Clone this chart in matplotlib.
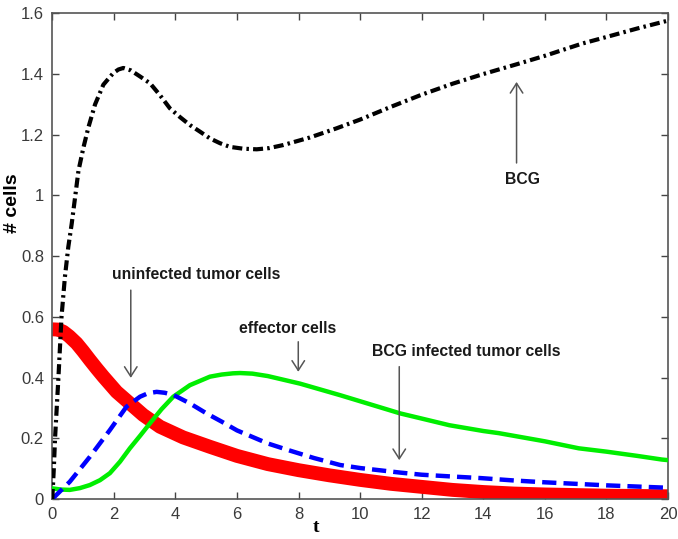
import matplotlib
matplotlib.use("Agg")
import matplotlib.pyplot as plt

# BCG concentration
t_bcg = [0, 0.05, 0.09, 0.15, 0.2, 0.3, 0.41, 0.52, 0.63, 0.74, 0.85, 1.01, 1.17, 1.39,
         1.66, 1.98, 2.15, 2.31, 2.55, 2.85, 3.18, 3.5, 3.82, 4.15, 4.47, 4.8, 5.12, 5.45,
         5.77, 6.2, 6.64, 7.05, 7.5, 8.37, 9.23, 10.0, 11.0, 12.0, 13.0, 14.0, 15.08,
         16.0, 17.2, 18.0, 19.0, 20.0]
bcg = [0.0, 0.1, 0.2, 0.31, 0.4, 0.6, 0.731, 0.83, 0.906, 0.993, 1.081, 1.157, 1.223, 1.30,
       1.365, 1.403, 1.415, 1.42, 1.412, 1.392, 1.369, 1.33, 1.287, 1.258, 1.232, 1.21, 1.188,
       1.172, 1.16, 1.154, 1.152, 1.156, 1.166, 1.191, 1.221, 1.25, 1.292, 1.332, 1.368,
       1.40, 1.432, 1.46, 1.50, 1.522, 1.55, 1.576]

# uninfected tumor cells
t_tu = [0, 0.2, 0.36, 0.55, 0.79, 1.0, 1.22, 1.44, 1.66, 2.09, 2.52, 2.95, 3.5, 4.25,
        5.12, 6.0, 7.0, 8.0, 9.0, 10.0, 11.0, 12.0, 13.0, 14.0, 15.0, 16.0, 17.0, 18.0,
        19.0, 20.0]
tu = [0.559, 0.558, 0.551, 0.536, 0.513, 0.487, 0.458, 0.43, 0.403, 0.353, 0.315, 0.277,
      0.238, 0.203, 0.172, 0.142, 0.115, 0.095, 0.078, 0.063, 0.05, 0.04, 0.03, 0.023, 0.018,
      0.015, 0.013, 0.011, 0.01, 0.009]

# BCG infected tumor cells
t_ti = [0, 0.57, 1.22, 1.87, 2.41, 2.85, 3.1, 3.39, 3.65, 3.93, 4.47, 5.01, 5.5, 6.0,
        7.0, 7.7, 8.5, 9.35, 10.0, 11.3, 12.0, 13.0, 13.9, 15.0, 16.0, 17.0, 18.0, 19.0,
        20.0]
ti = [0.0, 0.057, 0.139, 0.227, 0.304, 0.337, 0.348, 0.353, 0.35, 0.343, 0.315, 0.282,
      0.255, 0.226, 0.183, 0.16, 0.135, 0.112, 0.102, 0.087, 0.08, 0.074, 0.069, 0.061,
      0.055, 0.05, 0.045, 0.041, 0.037]

# effector cells
t_e = [0, 0.3, 0.57, 0.9, 1.22, 1.55, 1.87, 2.2, 2.52, 2.85, 3.17, 3.55, 3.93, 4.47,
       5.12, 5.5, 5.87, 6.1, 6.5, 7.0, 8.05, 9.35, 10.0, 11.3, 12.0, 12.9, 14.0, 14.5,
       16.0, 17.1, 18.0, 19.0, 19.8, 20.0]
eff = [0.035, 0.031, 0.03, 0.036, 0.046, 0.062, 0.085, 0.123, 0.167, 0.208, 0.249, 0.296,
       0.337, 0.375, 0.403, 0.41, 0.414, 0.415, 0.413, 0.405, 0.38, 0.342, 0.322, 0.282,
       0.265, 0.243, 0.224, 0.217, 0.19, 0.167, 0.156, 0.142, 0.13, 0.128]

x_ticks = list(range(0, 21, 2))
y_ticks = [0, 0.2, 0.4, 0.6, 0.8, 1.0, 1.2, 1.4, 1.6]
y_tick_labels = ["0", "0.2", "0.4", "0.6", "0.8", "1", "1.2", "1.4", "1.6"]

plt.rcParams["font.family"] = ["Liberation Sans", "DejaVu Sans"]

fig = plt.figure(figsize=(6.78, 5.39), dpi=100)
ax = fig.add_axes([0.0771, 0.0742, 0.9082, 0.9011])

ax.plot(t_tu, tu, color="#ff0000", lw=10, solid_capstyle="butt", solid_joinstyle="round",
        zorder=2)
ax.plot(t_e, eff, color="#00ee00", lw=3.2, zorder=3)
ax.plot(t_ti, ti, color="#0000ff", lw=3.2, dashes=(3.2, 1.6), zorder=4)
ax.plot(t_bcg, bcg, color="black", lw=3.0, dashes=(2.4, 1.0, 0.6, 1.0), zorder=5)

ax.set_xlim(0, 20)
ax.set_ylim(0, 1.6)
ax.set_xticks(x_ticks)
ax.set_yticks(y_ticks)
ax.set_yticklabels(y_tick_labels)
ax.tick_params(direction="in", top=True, right=True, length=5, width=1,
               color="#444444", labelsize=12, labelcolor="#3a3a3a", pad=6)
for s in ax.spines.values():
    s.set_color("#555555")
    s.set_linewidth(1.2)

ax.set_xlabel("t", fontsize=14, fontweight="bold", family="Liberation Serif")
ax.xaxis.label.set_va("center")
ax.xaxis.set_label_coords(0.428, -0.058)
ax.set_ylabel("# cells", fontsize=14, fontweight="bold")
ax.yaxis.label.set_va("center")
ax.yaxis.set_label_coords(-0.064, 0.609)

arrow_kw = dict(arrowstyle="->,head_length=0.7,head_width=0.45", color="#555555", lw=1.1,
                shrinkA=0, shrinkB=0)
label_kw = dict(fontsize=11.3, fontweight="bold", color="#1a1a1a", ha="center",
                va="center")

ax.annotate("", xy=(15.08, 1.374), xytext=(15.08, 1.107), arrowprops=arrow_kw)
ax.text(15.28, 1.051, "BCG", **label_kw)

ax.annotate("", xy=(2.55, 0.399), xytext=(2.55, 0.688), arrowprops=arrow_kw)
ax.text(4.69, 0.738, "uninfected tumor cells", **label_kw)

ax.annotate("", xy=(7.99, 0.419), xytext=(7.99, 0.518), arrowprops=arrow_kw)
ax.text(7.64, 0.562, "effector cells", **label_kw)

ax.annotate("", xy=(11.27, 0.128), xytext=(11.27, 0.436), arrowprops=arrow_kw)
ax.text(13.45, 0.485, "BCG infected tumor cells", **label_kw)

fig.savefig("out.png", dpi=100)
